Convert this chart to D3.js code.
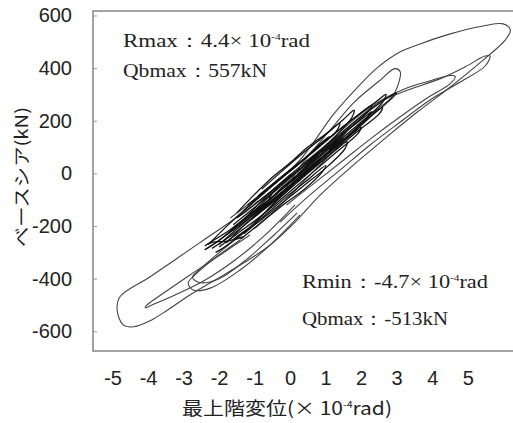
<!DOCTYPE html>
<html>
<head>
<meta charset="utf-8">
<script src="https://cdn.jsdelivr.net/npm/d3@7"></script>
<style>
  body { margin: 0; background: #fff; }
  svg { display: block; }
</style>
</head>
<body>
<svg id="chart"></svg>
<script>
// axis ticks as printed on the figure
var xTicks = [-5, -4, -3, -2, -1, 0, 1, 2, 3, 4, 5]
var yTicks = [600, 400, 200, 0, -200, -400, -600]

// hysteresis record: [drift (x10^-4 rad), base shear (kN)], traced piece by piece
// small cycles that make up the dark core
var coreA = [[-1.5,-150],[-1.0,-80],[-0.5,-15],[0,40],[0.5,100],[1.0,150],[1.5,205],[1.8,240],[1.75,215],[1.2,130],[0.6,60],[0,-5],[-0.6,-75],[-1.2,-140],[-1.5,-170]]
var coreB = [[-1.8,-265],[-1.2,-185],[-0.6,-115],[0,-50],[0.6,15],[1.2,80],[1.6,120],[1.55,95],[1.0,20],[0.4,-45],[-0.2,-110],[-0.8,-175],[-1.4,-235],[-1.9,-285],[-2.1,-300]]
var coreC = [[-2.3,-270],[-1.7,-190],[-1.0,-105],[-0.3,-25],[0.4,55],[1.1,135],[1.8,210],[2.4,270],[2.7,300],[2.6,270],[2.0,195],[1.3,115],[0.6,35],[-0.1,-45],[-0.8,-125],[-1.5,-200],[-2.1,-265],[-2.4,-290]]
var coreD = [[-2.4,-290],[-1.9,-245],[-1.3,-175],[-0.6,-100],[0.1,-25],[0.8,50],[1.5,130],[2.2,210],[2.6,250],[2.5,225],[1.9,160],[1.2,80],[0.5,0],[-0.2,-80],[-0.9,-155],[-1.6,-230],[-2.2,-285]]
var coreE = [[-0.8,-60],[-0.3,0],[0.3,70],[0.9,135],[1.4,190],[1.3,160],[0.8,100],[0.2,35],[-0.4,-30],[-0.9,-85]]
var coreF = [[-1.3,-230],[-0.8,-170],[-0.2,-100],[0.4,-35],[1.0,30],[0.9,5],[0.4,-60],[-0.2,-120],[-0.8,-185],[-1.4,-250]]
var coreG = [[0.2,-5],[0.8,75],[0.5,30],[1.2,110],[1.6,160],[1.1,90],[1.5,135],[0.9,60],[0.2,-30],[0.5,10],[-0.3,-85],[-0.9,-140],[-0.6,-110],[-1.4,-195],[-1.8,-235],[-1.2,-160],[-0.5,-65],[0.3,20]]
var coreH = [[0.5,40],[1.2,125],[1.9,205],[2.5,265],[2.9,300],[3.0,305],[2.7,265],[2.2,210],[2.5,245],[1.9,170],[1.2,90],[0.5,10],[-0.2,-70]]
var coreI = [[-0.3,-50],[-1.0,-140],[-1.7,-215],[-2.4,-275],[-2.2,-262],[-1.8,-258],[-1.3,-240],[-1.6,-252],[-1.1,-200],[-0.5,-120],[0.1,-45]]
var coreJ = [[-1.2,-120],[-0.6,-55],[0,10],[0.6,75],[1.2,145],[1.9,220],[2.3,260],[2.2,235],[1.6,165],[0.9,85],[0.2,5],[-0.5,-75],[-1.1,-140],[-1.6,-195]]
var coreK = [[-2.0,-270],[-1.4,-200],[-0.7,-120],[0,-45],[0.7,35],[1.4,110],[2.0,175],[1.9,150],[1.3,80],[0.6,0],[-0.1,-80],[-0.8,-160],[-1.5,-230],[-2.0,-280]]
var coreL = [[-0.6,-85],[-0.2,-35],[0.3,20],[0.8,80],[0.7,55],[0.3,5],[-0.2,-50],[-0.6,-100],[-0.5,-75]]
var coreM = [[-1.0,-150],[-0.5,-90],[0,-30],[0.5,30],[1.0,90],[1.3,120],[1.2,95],[0.7,40],[0.2,-20],[-0.3,-80],[-0.8,-135],[-1.1,-165]]
var coreN = [[-0.4,-30],[0.2,30],[0.7,95],[1.1,140],[0.8,100],[0.3,45],[-0.3,-20],[-0.9,-95],[-1.3,-140],[-1.0,-105],[-0.5,-45]]
var coreO = [[0.9,80],[1.5,150],[2.1,215],[2.3,235],[1.9,175],[1.3,105],[0.7,30],[0.1,-40],[-0.6,-120],[-1.1,-175],[-0.8,-140],[-0.2,-70],[0.4,0]]

// larger excursions
var posFinger = [[-1.0,-190],[-0.3,-90],[0.3,30],[1.1,160],[1.8,270],[2.5,350],[2.95,398],[3.1,386],[3.04,336],[2.87,291],[2.25,222],[1.41,108],[0.56,-6],[-0.3,-125],[-1.0,-210]]
var posMid = [[0.5,40],[1.5,170],[2.4,265],[3.2,320],[3.9,350],[4.5,372],[4.65,368],[4.5,340],[3.9,290],[3.1,215],[2.3,135],[1.5,50],[0.7,-35],[-0.1,-120]]
var posInner = [[0.3,30],[1.4,150],[2.5,270],[2.82,291],[3.38,320],[4.23,360],[4.93,405],[5.49,446],[5.63,446],[5.49,408],[4.79,347],[3.94,279],[3.1,195],[2.25,108],[1.41,13],[0.56,-82],[-0.28,-185]]
var outer = [[-1.69,-170],[-0.56,-52],[0.28,51],[1.21,222],[1.83,317],[2.45,401],[3.1,462],[3.66,492],[4.51,530],[5.44,560],[6.0,568],[6.2,545],[6.06,507],[5.44,431],[4.51,328],[3.58,233],[2.62,127],[1.69,21],[0.85,-82],[0.14,-185],[-0.56,-272],[-1.27,-337],[-2.11,-405],[-2.8,-460],[-3.46,-520],[-3.94,-560],[-4.4,-583],[-4.7,-576],[-4.87,-519],[-4.79,-469],[-3.94,-393],[-2.54,-263],[-1.69,-185],[-0.85,-101],[0,-17]]
var negSpike = [[0.14,-120],[-0.7,-234],[-1.55,-329],[-2.39,-405],[-3.24,-462],[-3.89,-500],[-4.08,-511],[-4.03,-500],[-3.52,-451],[-2.82,-386],[-1.97,-310],[-1.13,-234]]
var negLobe1 = [[-1.41,-253],[-2.11,-321],[-2.68,-386],[-2.87,-417],[-2.73,-443],[-2.25,-436],[-1.41,-367],[-0.56,-272],[0.28,-158]]
var negLobe2 = [[-1.2,-215],[-1.9,-290],[-2.5,-360],[-2.75,-395],[-2.55,-415],[-2.0,-400],[-1.3,-335],[-0.5,-240],[0.2,-150]]

var coreLoops = [coreA, coreB, coreC, coreD, coreE, coreF, coreG, coreH, coreI, coreJ, coreK, coreL, coreM, coreN, coreO]
var bigLoops = [outer, posInner, posMid, posFinger, negSpike, negLobe1, negLobe2]

var width = 513, height = 423
var frame = {left: 93, top: 11, right: 521, bottom: 351}

var svg = d3.select("#chart").attr("width", width).attr("height", height)

var x = d3.scaleLinear().domain([-5.55, 6.5]).range([frame.left, frame.right])
var y = d3.scaleLinear().domain([-675, 617]).range([frame.bottom, frame.top])

var line = d3.line()
  .x(d => x(d[0]))
  .y(d => y(d[1]))
  .curve(d3.curveCatmullRom.alpha(0.5))

// frame (right side runs off the picture)
svg.append("rect")
  .attr("x", frame.left).attr("y", frame.top)
  .attr("width", frame.right - frame.left).attr("height", frame.bottom - frame.top)
  .attr("fill", "none").attr("stroke", "#8c8c8c").attr("stroke-width", 1.6)

var tickFont = '"Liberation Sans", Arial, sans-serif'

var xAxis = svg.append("g")
  .attr("transform", `translate(0,${frame.bottom})`)
  .call(d3.axisBottom(x).tickValues(xTicks).tickSize(0).tickPadding(20).tickFormat(d => String(d)))
xAxis.select(".domain").remove()

var yAxis = svg.append("g")
  .attr("transform", `translate(${frame.left},0)`)
  .call(d3.axisLeft(y).tickValues(yTicks).tickSize(-4).tickPadding(21).tickFormat(d => String(d)))
yAxis.select(".domain").remove()
yAxis.selectAll(".tick line").attr("stroke", "#999")

svg.selectAll(".tick text")
  .attr("font-family", tickFont).attr("font-size", 20).attr("fill", "#222")

// loops
svg.append("g").selectAll("path")
  .data(bigLoops)
  .join("path")
  .attr("d", line)
  .attr("fill", "none").attr("stroke", "#444").attr("stroke-width", 1.1)

svg.append("g").selectAll("path")
  .data(coreLoops)
  .join("path")
  .attr("d", line)
  .attr("fill", "none").attr("stroke", "#111").attr("stroke-width", 1.25)

// notes in the plot
var noteFont = '"Liberation Serif", "Times New Roman", serif'
function addNote(x0, y0, len, pre, sup, post) {
  var t = svg.append("text")
    .attr("x", x0).attr("y", y0)
    .attr("font-family", noteFont).attr("font-size", 18).attr("fill", "#222")
    .attr("textLength", len).attr("lengthAdjust", "spacingAndGlyphs")
  t.append("tspan").text(pre)
  if (sup) {
    t.append("tspan").attr("dy", -7).attr("font-size", 9).text(sup)
    t.append("tspan").attr("dy", 7).text(post)
  }
}
addNote(123, 47, 187, "Rmax：4.4× 10", "-4", "rad")
addNote(123, 77, 144, "Qbmax：557kN")
addNote(302, 288, 186, "Rmin：-4.7× 10", "-4", "rad")
addNote(302, 325, 146, "Qbmax：-513kN")

// axis titles
var jpFont = '"Noto Sans CJK JP", sans-serif'
var xTitle = svg.append("text")
  .attr("x", 287).attr("y", 415)
  .attr("text-anchor", "middle")
  .attr("font-family", jpFont).attr("font-size", 18).attr("fill", "#222")
  .attr("textLength", 210).attr("lengthAdjust", "spacingAndGlyphs")
xTitle.append("tspan").text("最上階変位(× 10")
xTitle.append("tspan").attr("dy", -7).attr("font-size", 9).text("-4")
xTitle.append("tspan").attr("dy", 7).text("rad)")

svg.append("text")
  .attr("transform", "translate(22,177) rotate(-90)")
  .attr("text-anchor", "middle").attr("dy", "0.35em")
  .attr("font-family", jpFont).attr("font-size", 17).attr("fill", "#222")
  .attr("textLength", 140).attr("lengthAdjust", "spacingAndGlyphs")
  .text("ベースシア(kN)")
</script>
</body>
</html>
